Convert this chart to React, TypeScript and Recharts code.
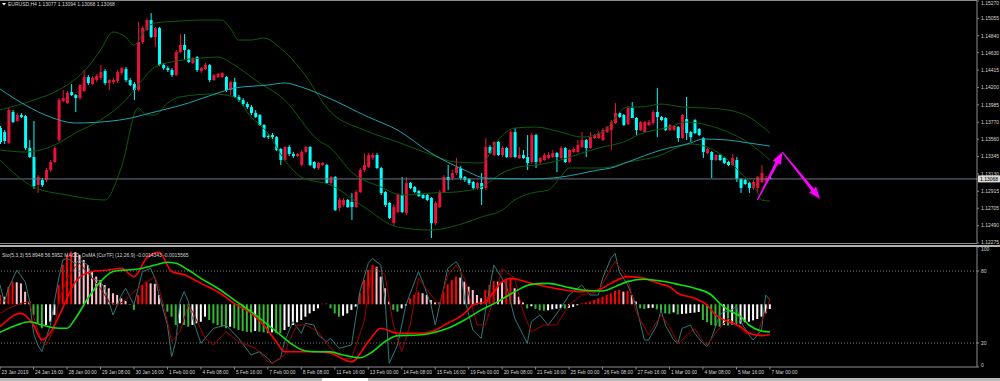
import React from "react";
import { ComposedChart, Bar, Line, XAxis, YAxis, ReferenceLine, Cell } from "recharts";

// ---------- DATA ----------
const timeLabels = [
  "23 Jan 2019", "24 Jan 16:00", "28 Jan 00:00", "29 Jan 08:00", "30 Jan 16:00", "1 Feb 00:00",
  "4 Feb 08:00", "5 Feb 16:00", "7 Feb 00:00", "8 Feb 08:00", "11 Feb 16:00", "13 Feb 00:00",
  "14 Feb 08:00", "15 Feb 16:00", "19 Feb 00:00", "20 Feb 08:00", "21 Feb 16:00", "25 Feb 00:00",
  "26 Feb 08:00", "27 Feb 16:00", "1 Mar 00:00", "4 Mar 08:00", "5 Mar 16:00", "7 Mar 00:00",
];
const labelIdx = timeLabels.map((_, k) => k * 8);

const priceTicks = [1.12275, 1.1249, 1.12705, 1.12915, 1.1313, 1.13345, 1.1356, 1.1377, 1.13985, 1.142, 1.14415, 1.1463, 1.1484, 1.15055, 1.1527];
const lastPrice = 1.13068;
const stochTicks = [0, 20, 80, 100];

const opens = [
  1.13698,1.13648,1.13512,1.13896,1.13785,1.13859,1.13846,1.13450,1.13339,1.12993,
  1.13054,1.13054,1.13178,1.13277,1.13549,1.14032,1.14007,1.14143,1.14106,1.14069,
  1.14156,1.14329,1.14242,1.14292,1.14317,1.14403,1.14255,1.14267,1.14280,1.14379,
  1.14428,1.14292,1.14242,1.14168,1.14762,1.14911,1.15034,1.14824,1.14935,1.14478,
  1.14440,1.14416,1.14354,1.14638,1.14725,1.14663,1.14502,1.14577,1.14403,1.14428,
  1.14478,1.14292,1.14329,1.14329,1.14329,1.14168,1.14267,1.14082,1.14044,1.13995,
  1.13958,1.13884,1.13859,1.13735,1.13599,1.13611,1.13586,1.13438,1.13302,1.13463,
  1.13376,1.13351,1.13240,1.13401,1.13463,1.13277,1.13203,1.13240,1.13240,1.13017,
  1.13091,1.12708,1.12745,1.12807,1.12782,1.12720,1.12906,1.13178,1.13215,1.13327,
  1.13364,1.13203,1.12906,1.12770,1.12522,1.12658,1.12869,1.12646,1.13017,1.12968,
  1.12918,1.12869,1.12869,1.12832,1.12522,1.12720,1.12906,1.13091,1.13079,1.13141,
  1.13203,1.13091,1.13067,1.13030,1.12955,1.13017,1.12955,1.13463,1.13364,1.13525,
  1.13364,1.13450,1.13339,1.13648,1.13327,1.13364,1.13339,1.13277,1.13611,1.13277,
  1.13302,1.13327,1.13339,1.13388,1.13327,1.13450,1.13277,1.13401,1.13401,1.13463,
  1.13549,1.13450,1.13574,1.13574,1.13549,1.13648,1.13673,1.13760,1.13884,1.13859,
  1.13747,1.13945,1.13822,1.13673,1.13648,1.13735,1.13760,1.13896,1.13834,1.13822,
  1.13673,1.13673,1.13710,1.13574,1.13809,1.13648,1.13797,1.13685,1.13574,1.13388,
  1.13401,1.13302,1.13364,1.13327,1.13277,1.13240,1.13302,1.13067,1.13054,1.13017,
  1.12955,1.12955,1.13030,1.13042,1.13077,
];
const highs = [
  1.13723,1.13673,1.13945,1.13921,1.13884,1.13884,1.13859,1.13549,1.13785,1.13116,
  1.13079,1.13203,1.13302,1.13475,1.14069,1.14168,1.14156,1.14242,1.14119,1.14242,
  1.14416,1.14354,1.14341,1.14366,1.14478,1.14428,1.14304,1.14317,1.14416,1.14453,
  1.14453,1.14317,1.14267,1.15010,1.14960,1.15059,1.15121,1.14948,1.14948,1.14502,
  1.14465,1.14440,1.14663,1.14861,1.14861,1.14676,1.14577,1.14589,1.14453,1.14502,
  1.14490,1.14366,1.14379,1.14391,1.14341,1.14280,1.14317,1.14106,1.14069,1.14020,
  1.13983,1.13921,1.13871,1.13747,1.13624,1.13636,1.13599,1.13450,1.13475,1.13487,
  1.13401,1.13388,1.13426,1.13475,1.13475,1.13289,1.13277,1.13277,1.13252,1.13104,
  1.13104,1.12832,1.12832,1.12819,1.12893,1.12931,1.13203,1.13388,1.13388,1.13388,
  1.13388,1.13215,1.12918,1.12782,1.12757,1.12893,1.13091,1.13091,1.13030,1.12980,
  1.12931,1.12881,1.12881,1.12844,1.12794,1.12931,1.13116,1.13240,1.13178,1.13327,
  1.13228,1.13104,1.13079,1.13042,1.13030,1.13141,1.13574,1.13487,1.13537,1.13537,
  1.13475,1.13463,1.13673,1.13698,1.13463,1.13426,1.13611,1.13636,1.13624,1.13339,
  1.13388,1.13401,1.13426,1.13401,1.13475,1.13463,1.13438,1.13463,1.13549,1.13648,
  1.13562,1.13648,1.13624,1.13661,1.13698,1.13723,1.13797,1.14007,1.13896,1.13871,
  1.13970,1.14020,1.13834,1.13785,1.13785,1.13797,1.13921,1.14193,1.13846,1.13834,
  1.13747,1.13735,1.13723,1.13871,1.14082,1.13661,1.13809,1.13698,1.13586,1.13450,
  1.13413,1.13376,1.13376,1.13339,1.13289,1.13376,1.13339,1.13079,1.13067,1.13030,
  1.13054,1.13104,1.13240,1.13104,1.13094,
];
const lows = [
  1.13500,1.13500,1.13500,1.13760,1.13772,1.13822,1.13426,1.13327,1.12943,1.12893,
  1.12968,1.13030,1.13153,1.13265,1.13525,1.14020,1.13995,1.14094,1.13896,1.14044,
  1.14143,1.14230,1.14230,1.14267,1.14292,1.14230,1.14168,1.14242,1.14255,1.14354,
  1.14267,1.14218,1.14044,1.14156,1.14737,1.14898,1.14812,1.14700,1.14465,1.14416,
  1.14391,1.14329,1.14341,1.14626,1.14539,1.14502,1.14490,1.14391,1.14379,1.14416,
  1.14267,1.14280,1.14317,1.14317,1.14143,1.14106,1.14069,1.14020,1.13970,1.13933,
  1.13859,1.13822,1.13723,1.13574,1.13562,1.13562,1.13413,1.13240,1.13289,1.13351,
  1.13327,1.13339,1.13228,1.13388,1.13228,1.13190,1.13178,1.13228,1.13005,1.12993,
  1.12671,1.12671,1.12720,1.12708,1.12559,1.12708,1.12893,1.13153,1.13203,1.13302,
  1.13190,1.12869,1.12720,1.12572,1.12485,1.12646,1.12646,1.12621,1.12943,1.12893,
  1.12844,1.12819,1.12794,1.12337,1.12497,1.12708,1.12893,1.12931,1.13054,1.13116,
  1.13054,1.13030,1.12993,1.12931,1.12931,1.12745,1.12931,1.13376,1.13351,1.13351,
  1.13339,1.13327,1.13327,1.13327,1.13314,1.13314,1.13178,1.13252,1.13203,1.13252,
  1.13289,1.13314,1.13327,1.13153,1.13314,1.13265,1.13265,1.13388,1.13388,1.13450,
  1.13339,1.13438,1.13562,1.13562,1.13537,1.13636,1.13426,1.13747,1.13822,1.13723,
  1.13735,1.13822,1.13611,1.13661,1.13636,1.13723,1.13735,1.13586,1.13785,1.13661,
  1.13661,1.13661,1.13525,1.13562,1.13549,1.13525,1.13624,1.13599,1.13327,1.13376,
  1.13079,1.13289,1.13289,1.13252,1.13228,1.13228,1.13030,1.12893,1.12993,1.12893,
  1.12931,1.12893,1.13017,1.13030,1.13068,
];
const closes = [
  1.13525,1.13537,1.13921,1.13772,1.13859,1.13834,1.13450,1.13339,1.12980,1.13091,
  1.12993,1.13178,1.13277,1.13450,1.14044,1.14069,1.14131,1.14106,1.14069,1.14230,
  1.14329,1.14255,1.14317,1.14341,1.14391,1.14255,1.14292,1.14292,1.14391,1.14440,
  1.14292,1.14230,1.14168,1.14762,1.14935,1.15034,1.14824,1.14935,1.14478,1.14440,
  1.14416,1.14354,1.14638,1.14725,1.14663,1.14515,1.14564,1.14416,1.14440,1.14478,
  1.14292,1.14354,1.14366,1.14379,1.14168,1.14267,1.14082,1.14044,1.13995,1.13958,
  1.13884,1.13834,1.13735,1.13586,1.13586,1.13586,1.13426,1.13302,1.13463,1.13376,
  1.13351,1.13376,1.13401,1.13463,1.13240,1.13203,1.13265,1.13265,1.13017,1.13091,
  1.12683,1.12807,1.12807,1.12720,1.12720,1.12906,1.13178,1.13240,1.13364,1.13364,
  1.13203,1.12893,1.12745,1.12584,1.12720,1.12869,1.12658,1.13017,1.12955,1.12906,
  1.12856,1.12832,1.12807,1.12522,1.12770,1.12906,1.13091,1.13054,1.13141,1.13215,
  1.13079,1.13054,1.13017,1.12955,1.13017,1.12943,1.13463,1.13388,1.13525,1.13364,
  1.13450,1.13339,1.13648,1.13339,1.13364,1.13327,1.13265,1.13611,1.13277,1.13327,
  1.13364,1.13364,1.13388,1.13339,1.13450,1.13277,1.13426,1.13438,1.13487,1.13549,
  1.13450,1.13586,1.13611,1.13636,1.13673,1.13710,1.13772,1.13884,1.13834,1.13735,
  1.13945,1.13822,1.13673,1.13772,1.13772,1.13772,1.13896,1.13834,1.13797,1.13673,
  1.13735,1.13723,1.13574,1.13859,1.13636,1.13586,1.13636,1.13611,1.13401,1.13438,
  1.13302,1.13364,1.13302,1.13265,1.13240,1.13327,1.13067,1.12955,1.13005,1.12955,
  1.13030,1.13091,1.13141,1.13079,1.13068,
];

// Moving average & Bollinger bands: [bar index, price]
const maPts = [[0,1.14181],[6,1.13983],[12,1.13834],[18,1.1376],[24,1.13772],[30,1.13809],[36,1.13884],[45,1.14007],[52,1.14131],[56,1.14193],[64,1.1423],[68,1.14255],[72,1.14205],[78,1.14082],[88,1.13834],[95,1.13673],[103,1.13388],[111,1.13178],[116,1.13079],[127,1.13067],[134,1.13091],[143,1.13178],[146,1.13203],[150,1.13277],[158,1.13426],[165,1.13512],[168,1.13562],[174,1.13549],[179,1.13512],[184,1.13475]];
const bbUpperPts = [[0,1.13921],[8,1.14044],[14,1.14168],[21,1.14453],[24,1.14663],[27,1.14886],[30,1.14824],[32,1.14725],[35,1.14935],[37,1.14997],[43,1.15022],[48,1.15034],[53,1.15034],[55,1.14935],[57,1.14787],[60,1.14787],[63,1.14812],[67,1.14688],[72,1.14416],[79,1.13896],[87,1.13673],[95,1.13525],[102,1.13388],[109,1.13277],[115,1.13265],[119,1.13549],[123,1.13698],[128,1.1371],[134,1.13648],[139,1.13586],[144,1.13648],[150,1.13958],[153,1.13958],[158,1.13995],[163,1.13958],[169,1.13945],[174,1.13921],[179,1.13834],[184,1.13636]];
const bbMiddlePts = [[0,1.13426],[6,1.13401],[13,1.13487],[18,1.13636],[24,1.13797],[30,1.14044],[33,1.1423],[37,1.14453],[41,1.14515],[48,1.14564],[52,1.14577],[56,1.14478],[61,1.14292],[68,1.14044],[76,1.13549],[79,1.1345],[84,1.13153],[91,1.12968],[96,1.12869],[103,1.12893],[109,1.12906],[115,1.12968],[120,1.13141],[124,1.13215],[128,1.1324],[134,1.13302],[139,1.13388],[144,1.13463],[149,1.13525],[153,1.13624],[160,1.1371],[164,1.13772],[169,1.13735],[174,1.13648],[179,1.13512],[184,1.13302]];
const bbLowerPts = [[0,1.13302],[8,1.12968],[16,1.12869],[25,1.12807],[29,1.13215],[33,1.13945],[35,1.13859],[37,1.13859],[40,1.14007],[43,1.14082],[51,1.14119],[56,1.14082],[60,1.13834],[64,1.13636],[68,1.13302],[72,1.13091],[79,1.12992],[87,1.1272],[95,1.12473],[103,1.12436],[111,1.12522],[115,1.12596],[120,1.12683],[123,1.12807],[127,1.12893],[131,1.12931],[134,1.13091],[136,1.13203],[143,1.13203],[146,1.13215],[150,1.13277],[153,1.13302],[158,1.13364],[161,1.13438],[165,1.135],[169,1.13463],[174,1.13302],[177,1.13141],[181,1.12906],[182,1.12807],[184,1.12794]];

// OsMA histogram (pips)
const histogram = [
  4.8,3.9,9.1,11.7,11.4,10.8,6.5,1.4,-5.5,-9.8,
  -12.4,-10.7,-9.0,-5.5,10.0,20.3,25.5,27.2,26.9,25.5,
  22.9,20.3,16.9,14.3,12.6,10.0,8.3,5.7,4.8,3.1,
  1.7,-0.3,-2.9,4.8,10.0,11.7,10.8,10.6,4.8,-1.2,
  -3.8,-6.4,-10.7,-9.8,-10.7,-11.6,-10.7,-9.8,-9.0,-6.4,
  -8.1,-9.8,-10.7,-11.6,-12.4,-11.6,-12.4,-13.3,-13.8,-14.2,
  -14.5,-13.8,-14.2,-14.5,-15.0,-14.5,-14.7,-15.0,-13.3,-11.6,
  -10.7,-9.3,-8.1,-6.4,-4.7,-3.5,-2.1,0.3,0.5,-2.1,
  -4.7,-6.4,-5.9,-4.7,-2.9,-1.2,5.7,12.6,17.7,20.3,
  19.4,14.3,8.3,1.4,-2.9,-3.8,-2.1,-0.7,3.1,4.8,
  6.2,5.7,4.8,2.2,1.0,0.9,6.5,10.3,12.6,14.3,
  13.8,11.7,9.1,7.4,4.8,3.1,7.4,10.0,12.0,11.7,
  11.4,12.6,13.4,8.3,3.9,1.0,-2.1,-1.0,-2.4,-3.1,
  -3.3,-3.1,-2.6,-2.3,-2.0,-2.2,-1.8,-1.4,-0.5,0.5,
  1.0,1.4,2.2,3.1,3.9,4.8,5.7,6.9,7.4,6.5,
  6.9,4.8,1.4,-2.1,-2.4,-2.0,-1.8,-2.6,-3.8,-4.7,
  -4.9,-4.2,-5.2,-5.0,-4.8,-4.5,-4.3,-4.0,-8.1,-9.3,
  -10.7,-11.2,-11.6,-10.7,-11.0,-10.4,-10.7,-10.0,-9.3,-9.0,
  -8.3,-7.6,-6.4,-4.7,-2.4,
];

// Stochastic (5,3,3) main / signal: [bar index, value]
const stochMainPts = [[0,68.3],[1,54.4],[2,65.6],[4,80.8],[6,71.1],[7,55.8],[8,28.1],[9,18.3],[10,12.8],[12,35],[14,73.9],[15,89.2],[16,90.5],[18,86.4],[19,89.2],[21,85],[22,73.9],[24,71.1],[25,65.6],[27,43.3],[29,60],[30,65.6],[32,51.7],[34,79.4],[36,82.2],[37,73.9],[38,60],[40,35],[41,8.6],[42,21.1],[43,54.4],[44,62.8],[45,54.4],[46,40.6],[48,19.7],[51,32.2],[54,35],[57,23.9],[60,10],[62,12.8],[64,7.2],[65,3.1],[67,7.2],[68,21.1],[70,37.8],[72,28.1],[73,36.4],[75,35],[76,26.7],[78,21.1],[79,23.9],[81,15.6],[84,18.3],[86,62.8],[88,86.4],[89,90.5],[91,85],[92,57.2],[93,3.1],[95,18.3],[97,51.7],[100,79.4],[101,71.1],[103,51.7],[104,35],[106,65.6],[107,82.2],[109,87.8],[110,82.2],[111,57.2],[113,30.8],[115,23.9],[116,46.1],[118,85],[119,79.4],[121,68.3],[123,40.6],[126,19.7],[127,37.8],[129,43.3],[131,35],[134,48.9],[136,60],[139,68.3],[141,60],[143,60],[144,73.9],[146,90.5],[147,94.7],[148,79.4],[150,68.3],[152,51.7],[154,22.5],[155,22.5],[157,35],[158,47.5],[159,35],[161,22.5],[162,19.7],[163,32.2],[165,35],[166,28.1],[168,19.7],[169,16.9],[170,23.9],[172,43.3],[173,46.1],[174,46.1],[176,50.3],[177,37.8],[179,26.7],[180,22.5],[182,30.8],[183,60],[184,55.9]];
const stochSignalPts = [[0,44.7],[2,48.9],[5,53.1],[7,54.4],[8,41.9],[10,21.1],[11,18.3],[13,32.2],[14,54.4],[16,73.9],[18,83.6],[19,86.4],[21,78.1],[22,73.9],[24,65.6],[26,54.4],[28,51.7],[30,55.8],[32,62.8],[34,68.3],[37,75.3],[38,65.6],[40,37.8],[41,21.1],[43,29.4],[45,51.7],[46,46.1],[49,23.9],[51,18.3],[54,29.4],[57,21.1],[61,15.6],[64,4.4],[65,3.1],[68,10],[69,21.1],[71,35],[73,35],[76,29.4],[79,15.6],[82,7.2],[84,7.2],[87,37.8],[89,85],[92,76.7],[94,35],[96,12.8],[98,35],[100,73.9],[103,60],[105,51.7],[107,76.7],[109,85],[111,73.9],[114,35],[116,35],[119,68.3],[120,82.2],[123,73.9],[125,46.1],[127,29.4],[130,35],[133,35],[136,51.7],[139,60],[143,62.8],[146,82.2],[147,87.8],[150,73.9],[152,46.1],[155,26.7],[158,43.3],[160,33.6],[162,19.7],[163,22.5],[166,32.2],[168,21.1],[169,18.3],[171,28.1],[174,40.6],[176,35],[178,28.1],[181,26.7],[182,37.8],[183,45],[184,56.6]];

// MACD (12,26,9) lines in pips: [bar index, value]
const macdMainPts = [[0,-11.6],[5,-4.7],[8,-10.7],[10,-18.4],[12,-14.5],[14,-6.4],[16,3.1],[18,11.7],[22,16.9],[26,17.7],[29,18.6],[32,14.3],[35,23.8],[38,26.9],[41,16.9],[44,15.2],[48,10.8],[52,6.5],[56,0.5],[60,-4.7],[63,-10.7],[66,-19.3],[68,-24.5],[72,-24.5],[76,-24.5],[79,-25.3],[84,-29.7],[88,-19.3],[91,-12.4],[95,-15.0],[100,-15.0],[103,-14.2],[107,-9.8],[111,-4.7],[113,-0.4],[116,1.4],[118,6.5],[120,11.7],[122,13.4],[127,10.8],[135,7.4],[139,6.5],[143,7.4],[146,10.8],[150,14.3],[154,13.4],[158,10.4],[160,9.1],[162,5.7],[166,3.1],[169,-0.4],[171,-5.5],[174,-9.0],[177,-11.6],[179,-15.0],[182,-16.2],[184,-15.6]];
const macdSignalPts = [[0,-14.5],[4,-10.7],[7,-9.0],[10,-10.7],[14,-12.4],[16,-12.4],[18,-7.3],[21,3.1],[24,11.7],[27,16.9],[30,17.7],[33,18.2],[37,20.3],[40,21.7],[42,21.2],[45,17.7],[48,13.4],[52,8.3],[56,2.2],[60,-3.8],[64,-10.7],[68,-17.6],[70,-21.0],[73,-24.1],[76,-24.5],[79,-24.6],[82,-26.2],[86,-27.6],[89,-24.5],[92,-19.3],[95,-16.2],[100,-15.9],[103,-15.0],[107,-12.4],[111,-8.1],[115,-2.9],[119,1.4],[123,6.5],[127,10.3],[131,10.8],[135,9.1],[139,7.4],[144,6.9],[147,9.1],[150,11.7],[154,12.9],[158,12.0],[162,10.3],[166,8.3],[170,4.8],[172,0.5],[174,-2.9],[177,-6.4],[179,-10.7],[182,-13.8],[184,-14.3]];

// hand-drawn arrows: [bar index, price]
const arrowUp = [[181, 1.12807], [187, 1.13401]];
const arrowDown = [[187, 1.13401], [196, 1.12819]];

// ---------- TABLE ----------
const TOTAL = 234;
const rows: any[] = Array.from({ length: TOTAL }, (_, i) => ({ i }));
opens.forEach((o, i) => {
  rows[i].o = o; rows[i].h = highs[i]; rows[i].l = lows[i]; rows[i].c = closes[i];
  rows[i].hist = histogram[i];
});
const place = (pts: number[][], key: string) => pts.forEach(([i, v]) => { rows[i][key] = v; });
place(maPts, "ma");
place(bbUpperPts, "up");
place(bbMiddlePts, "mid");
place(bbLowerPts, "lo");
place(stochMainPts, "sk");
place(stochSignalPts, "sd");
place(macdMainPts, "mm");
place(macdSignalPts, "ms");

// ---------- STYLE ----------
const BG = "#000000";
const FRAME = "#8c8c8c";
const TXT = "#d4d4d4";
const FONT = "Liberation Sans, Arial, sans-serif";
const BULL = "#e8123c";
const BEAR = "#00ffff";
const BB = "#0d5c0d";
const MA = "#1ca3ad";
const H_RED = "#ff0000", H_PINK = "#ffc0cb", H_GREEN = "#36b836", H_WHITE = "#ffffff";

const histColor = (i: number) => {
  const v = histogram[i];
  const p = i > 0 ? histogram[i - 1] : v;
  if (v >= 0) return v >= p ? H_RED : H_PINK;
  return v <= p ? H_GREEN : H_WHITE;
};

const Candle = (props: any) => {
  const { x, y, width, height, payload } = props;
  if (!payload || payload.o == null) return null;
  const { o, h, l, c } = payload;
  const top = Math.min(y, y + height);
  const bot = Math.max(y, y + height);
  const span = h - l;
  const py = (p: number) => (span === 0 ? top : top + ((h - p) / span) * (bot - top));
  const color = c >= o ? BULL : BEAR;
  const cx = x + width / 2;
  const bt = py(Math.max(o, c));
  const bb = py(Math.min(o, c));
  return (
    <g>
      <line x1={cx} x2={cx} y1={top} y2={bot} stroke={color} strokeWidth={1} />
      <rect x={x} y={bt} width={width} height={Math.max(1, bb - bt)} fill={color} />
    </g>
  );
};

const arrowShape = (p: any) => {
  const { x1, y1, x2, y2 } = p;
  const dx = x2 - x1, dy = y2 - y1;
  const len = Math.hypot(dx, dy) || 1;
  const ux = dx / len, uy = dy / len;
  const nx = -uy, ny = ux;
  const L = 12, HW = 4.5;
  const bx = x2 - ux * L, by = y2 - uy * L;
  const pts = [
    [x1 + nx * 0.6, y1 + ny * 0.6],
    [bx + nx * 1.6, by + ny * 1.6],
    [bx + nx * HW, by + ny * HW],
    [x2, y2],
    [bx - nx * HW, by - ny * HW],
    [bx - nx * 1.6, by - ny * 1.6],
    [x1 - nx * 0.6, y1 - ny * 0.6],
  ];
  return <polygon points={pts.map((q) => q.join(",")).join(" ")} fill="#ff00ff" />;
};

const PriceTick = (p: any) => {
  const { x, y, payload } = p;
  const v = payload.value as number;
  if (v === lastPrice) {
    return (
      <g>
        <rect x={978} y={y - 3.5} width={22} height={7} fill="#d8d8d8" />
        <text x={980} y={y} dy={1.8} fontSize={5} fontFamily={FONT} fill="#000">{v.toFixed(5)}</text>
      </g>
    );
  }
  const dy = v === 1.1527 ? 3.9 : v === 1.12275 ? 0.8 : 1.8;
  return <text x={x} y={y} dy={dy} fontSize={5} fontFamily={FONT} fill={TXT}>{v.toFixed(5)}</text>;
};

const StochTick = (p: any) => {
  const { x, y, payload } = p;
  const v = payload.value as number;
  const dy = v === 100 ? 4 : v === 0 ? -0.5 : 1.8;
  return <text x={x} y={y} dy={dy} fontSize={5} fontFamily={FONT} fill={TXT}>{v}</text>;
};

const TimeTick = (p: any) => {
  const { x, y, payload } = p;
  const k = labelIdx.indexOf(payload.value);
  if (k < 0) return null;
  return (
    <g>
      <line x1={x} x2={x} y1={y} y2={y + 2.5} stroke={FRAME} />
      <text x={x + 1.5} y={y + 7} fontSize={4.9} fontFamily={FONT} fill={TXT}>{timeLabels[k]}</text>
    </g>
  );
};

const lineProps = { dot: false, activeDot: false, connectNulls: true, isAnimationActive: false } as const;

export default function App() {
  return (
    <div style={{ position: "fixed", left: 0, top: 0, width: 1000, height: 381, background: BG, overflow: "hidden" }}>
      <div style={{ position: "absolute", left: 0, top: 0 }}>
        <ComposedChart width={1000} height={246} data={rows} margin={{ top: 1, right: 0, bottom: 3, left: -2 }} barCategoryGap={0}>
          <XAxis dataKey="i" hide />
          <YAxis
            yAxisId="p" orientation="right" type="number" domain={[1.12275, 1.1527]} allowDataOverflow
            ticks={[...priceTicks, lastPrice]} interval={0} width={23}
            axisLine={{ stroke: FRAME }} tickLine={{ stroke: FRAME }} tickSize={2} tickMargin={2}
            tick={<PriceTick />}
          />
          <ReferenceLine yAxisId="p" y={lastPrice} stroke="#6a7683" strokeWidth={1} />
          <Bar yAxisId="p" dataKey={(d: any) => (d.o == null ? null : [d.l, d.h])} shape={<Candle />} barSize={3} isAnimationActive={false} />
          <Line yAxisId="p" dataKey="up" stroke={BB} strokeWidth={1} type="monotone" {...lineProps} />
          <Line yAxisId="p" dataKey="mid" stroke={BB} strokeWidth={1} type="monotone" {...lineProps} />
          <Line yAxisId="p" dataKey="lo" stroke={BB} strokeWidth={1} type="monotone" {...lineProps} />
          <Line yAxisId="p" dataKey="ma" stroke={MA} strokeWidth={1} type="monotone" {...lineProps} />
          <ReferenceLine yAxisId="p" ifOverflow="visible" segment={[{ x: arrowUp[0][0], y: arrowUp[0][1] }, { x: arrowUp[1][0], y: arrowUp[1][1] }]} shape={arrowShape} />
          <ReferenceLine yAxisId="p" ifOverflow="visible" segment={[{ x: arrowDown[0][0], y: arrowDown[0][1] }, { x: arrowDown[1][0], y: arrowDown[1][1] }]} shape={arrowShape} />
        </ComposedChart>
      </div>
      <div style={{ position: "absolute", left: 0, top: 246 }}>
        <ComposedChart width={1000} height={135} data={rows} margin={{ top: 1, right: 0, bottom: 0, left: -2 }} barCategoryGap={0}>
          <XAxis dataKey="i" ticks={labelIdx} interval={0} height={14} axisLine={{ stroke: FRAME }} tickLine={false} tickSize={0} tickMargin={0} tick={<TimeTick />} />
          <YAxis
            yAxisId="s" orientation="right" type="number" domain={[0, 100]} ticks={stochTicks} interval={0} width={23}
            axisLine={{ stroke: FRAME }} tickLine={{ stroke: FRAME }} tickSize={2} tickMargin={2} tick={<StochTick />}
          />
          <YAxis yAxisId="m" hide type="number" domain={[-32.4, 29.6]} allowDataOverflow />
          <ReferenceLine yAxisId="s" y={80} stroke="#7a7a7a" strokeDasharray="1 2" />
          <ReferenceLine yAxisId="s" y={20} stroke="#7a7a7a" strokeDasharray="1 2" />
          <Bar yAxisId="m" dataKey="hist" barSize={2} isAnimationActive={false}>
            {rows.map((r, i) => (
              <Cell key={i} fill={r.hist == null ? "none" : histColor(i)} />
            ))}
          </Bar>
          <Line yAxisId="s" dataKey="sk" stroke="#2f7878" strokeWidth={1} type="linear" {...lineProps} />
          <Line yAxisId="s" dataKey="sd" stroke="#a00000" strokeWidth={1} type="linear" {...lineProps} />
          <Line yAxisId="m" dataKey="mm" stroke="#ff0000" strokeWidth={1.6} type="monotone" {...lineProps} />
          <Line yAxisId="m" dataKey="ms" stroke="#10dd10" strokeWidth={1.6} type="monotone" {...lineProps} />
        </ComposedChart>
      </div>
      <svg width={1000} height={381} style={{ position: "absolute", left: 0, top: 0, pointerEvents: "none" }}>
        <rect x={0} y={0} width={977} height={1} fill={FRAME} />
        <rect x={0} y={243} width={977} height={1} fill={FRAME} />
        <rect x={0} y={245} width={1000} height={2} fill="#b0b0b0" />
        <rect x={0} y={378} width={1000} height={3} fill="#b8b8b8" />
        <rect x={322} y={378} width={46} height={3} fill="#ffffff" />
        <polygon points="2,3 6,3 4,5.5" fill="#ffffff" />
        <text x={8} y={6} fontSize={5} fontFamily={FONT} fill={TXT}>EURUSD,H4  1.13077 1.13094 1.13068 1.13068</text>
        <text x={2} y={257} fontSize={5} fontFamily={FONT} fill={TXT}>Sto(5,3,3) 55.8948 56.5952  MACD_OsMA [CurTF] (12,26,9) -0.0014343 -0.0015565</text>
      </svg>
    </div>
  );
}
